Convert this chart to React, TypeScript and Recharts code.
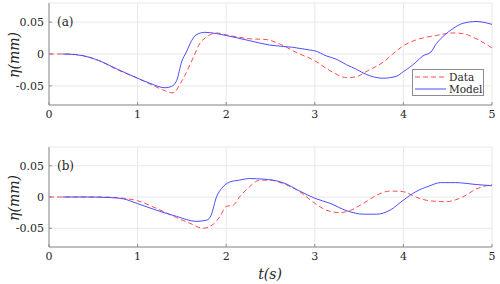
import { LineChart, Line, XAxis, YAxis, CartesianGrid } from "recharts";

// panel (a)
const aDataT = [0, 0.2, 0.4, 0.575, 0.76, 1.0, 1.14, 1.28, 1.4, 1.48, 1.55, 1.63, 1.7, 1.78, 1.89, 2.0, 2.26, 2.45, 2.6, 2.79, 3.0, 3.17, 3.36, 3.46, 3.6, 3.77, 3.88, 4.0, 4.14, 4.37, 4.56, 4.67, 4.82, 5.0];
const aDataV = [0, 0, -0.003, -0.011, -0.024, -0.038, -0.047, -0.056, -0.061, -0.047, -0.029, -0.005, 0.016, 0.027, 0.033, 0.03, 0.024, 0.0227, 0.016, 0.0025, -0.0106, -0.026, -0.037, -0.036, -0.026, -0.013, 0, 0.013, 0.022, 0.029, 0.033, 0.032, 0.024, 0.0095];
const aModelT = [0.15, 0.3, 0.45, 0.575, 0.76, 1.0, 1.14, 1.31, 1.38, 1.44, 1.5, 1.55, 1.61, 1.66, 1.76, 1.89, 2.0, 2.26, 2.49, 2.75, 2.94, 3.0, 3.13, 3.24, 3.36, 3.47, 3.58, 3.77, 3.92, 4.0, 4.07, 4.14, 4.22, 4.31, 4.37, 4.46, 4.56, 4.67, 4.82, 5.0];
const aModelV = [0, -0.001, -0.005, -0.011, -0.023, -0.038, -0.046, -0.053, -0.051, -0.042, -0.011, 0.003, 0.021, 0.03, 0.034, 0.032, 0.029, 0.021, 0.014, 0.0105, 0.0063, 0.005, -0.003, -0.008, -0.017, -0.024, -0.032, -0.038, -0.035, -0.0276, -0.021, -0.013, -0.003, 0.003, 0.016, 0.029, 0.04, 0.048, 0.051, 0.0465];

// panel (b)
const bDataT = [0, 0.3, 0.6, 0.84, 1.0, 1.21, 1.44, 1.59, 1.74, 1.85, 1.93, 2.0, 2.08, 2.15, 2.26, 2.38, 2.49, 2.64, 2.83, 3.0, 3.13, 3.28, 3.39, 3.55, 3.7, 3.85, 4.0, 4.14, 4.29, 4.48, 4.67, 4.82, 5.0];
const bDataV = [0, 0, 0, -0.002, -0.006, -0.018, -0.033, -0.042, -0.05, -0.044, -0.031, -0.015, -0.013, 0, 0.016, 0.027, 0.027, 0.0216, 0.0085, -0.01, -0.021, -0.025, -0.022, -0.01, 0.003, 0.0095, 0.0085, 0, -0.006, -0.0075, 0, 0.0127, 0.02];
const bModelT = [0.15, 0.4, 0.7, 0.84, 1.0, 1.21, 1.44, 1.66, 1.78, 1.83, 1.89, 1.95, 2.04, 2.15, 2.26, 2.42, 2.64, 2.83, 3.0, 3.17, 3.36, 3.55, 3.7, 3.85, 4.0, 4.14, 4.29, 4.42, 4.59, 4.82, 5.0];
const bModelV = [0, 0, -0.001, -0.003, -0.0106, -0.021, -0.031, -0.039, -0.037, -0.029, 0, 0.014, 0.024, 0.027, 0.0295, 0.0286, 0.023, 0.0095, -0.002, -0.01, -0.022, -0.0275, -0.0275, -0.021, -0.005, 0.0085, 0.0175, 0.023, 0.023, 0.02, 0.018];

const xTicks = [0, 1, 2, 3, 4, 5];
const yTicks = [-0.05, 0, 0.05];

const RED = "#ff4d4d";
const BLUE = "#4d4dff";
const AXIS = "#8c8c8c";
const FONT = "'DejaVu Serif', 'Liberation Serif', serif";

const zip = (t: number[], v: number[]) => t.map((x, i) => ({ t: x, v: v[i] }));
const fmtY = (v: number) => (v === 0 ? "0" : String(v));
const tickStyle = { fill: "#262626", fontSize: 11, fontFamily: FONT };

function Panel({ dataT, dataV, modelT, modelV, top }: { dataT: number[]; dataV: number[]; modelT: number[]; modelV: number[]; top: number }) {
  return (
    <LineChart width={500} height={142} margin={{ top, right: 8, left: 0, bottom: 17 }} style={{ fontFamily: FONT }}>
      <CartesianGrid stroke="#e8e8e8" xAxisId="b" yAxisId="l" />
      <XAxis xAxisId="b" dataKey="t" type="number" domain={[0, 5]} ticks={xTicks} height={20}
        stroke={AXIS} tick={tickStyle} tickSize={-3} tickMargin={8} allowDataOverflow />
      <XAxis xAxisId="t" orientation="top" dataKey="t" type="number" domain={[0, 5]} ticks={xTicks} height={0}
        stroke={AXIS} tickFormatter={() => ""} tickSize={-3} />
      <YAxis yAxisId="l" domain={[-0.08, 0.08]} ticks={yTicks} width={49} stroke={AXIS} tick={tickStyle}
        tickSize={-3} tickMargin={8} tickFormatter={fmtY} allowDataOverflow />
      <YAxis yAxisId="r" orientation="right" domain={[-0.08, 0.08]} ticks={yTicks} width={0} stroke={AXIS}
        tickFormatter={() => ""} tickSize={-3} />
      <Line xAxisId="b" yAxisId="l" data={zip(dataT, dataV)} dataKey="v" type="monotone" stroke={RED}
        strokeWidth={1} strokeDasharray="5 3" dot={false} isAnimationActive={false} />
      <Line xAxisId="b" yAxisId="l" data={zip(modelT, modelV)} dataKey="v" type="monotone" stroke={BLUE}
        strokeWidth={1} dot={false} isAnimationActive={false} />
    </LineChart>
  );
}

const yLabel = (top: number) => (
  <div style={{ position: "absolute", left: 14, top, transform: "translate(-50%, -50%) rotate(-90deg)",
    fontStyle: "italic", fontSize: 14, color: "#262626", whiteSpace: "nowrap", lineHeight: "16px" }}>
    η(mm)
  </div>
);

export default function App() {
  return (
    <div style={{ position: "absolute", left: 0, top: 0, width: 500, height: 284, background: "#fff", fontFamily: FONT }}>
      <div style={{ position: "absolute", left: 0, top: 0 }}>
        <Panel dataT={aDataT} dataV={aDataV} modelT={aModelT} modelV={aModelV} top={3} />
      </div>
      <div style={{ position: "absolute", left: 0, top: 142 }}>
        <Panel dataT={bDataT} dataV={bDataV} modelT={bModelT} modelV={bModelV} top={5} />
      </div>
      {yLabel(55)}
      {yLabel(198)}
      <div style={{ position: "absolute", left: 57, top: 15, fontSize: 12, lineHeight: "15px", color: "#262626" }}>(a)</div>
      <div style={{ position: "absolute", left: 57, top: 159, fontSize: 12, lineHeight: "15px", color: "#262626" }}>(b)</div>
      <div style={{ position: "absolute", left: 270, top: 274, transform: "translate(-50%, -50%)", fontStyle: "italic",
        fontSize: 14, lineHeight: "16px", color: "#262626" }}>t(s)</div>
      <div style={{ position: "absolute", left: 412, top: 69, width: 72, height: 27, boxSizing: "border-box",
        border: `1px solid ${AXIS}`, background: "#fff", fontSize: 10.5, lineHeight: "12px", color: "#262626", paddingTop: 1 }}>
        {[{ name: "Data", c: RED, dash: true }, { name: "Model", c: BLUE, dash: false }].map((d) => (
          <div key={d.name} style={{ display: "flex", alignItems: "center", height: 12 }}>
            <svg width={36} height={12} style={{ display: "block" }}>
              <line x1={2} x2={33} y1={6} y2={6} stroke={d.c} strokeDasharray={d.dash ? "5 3" : undefined} />
            </svg>
            <span>{d.name}</span>
          </div>
        ))}
      </div>
    </div>
  );
}
